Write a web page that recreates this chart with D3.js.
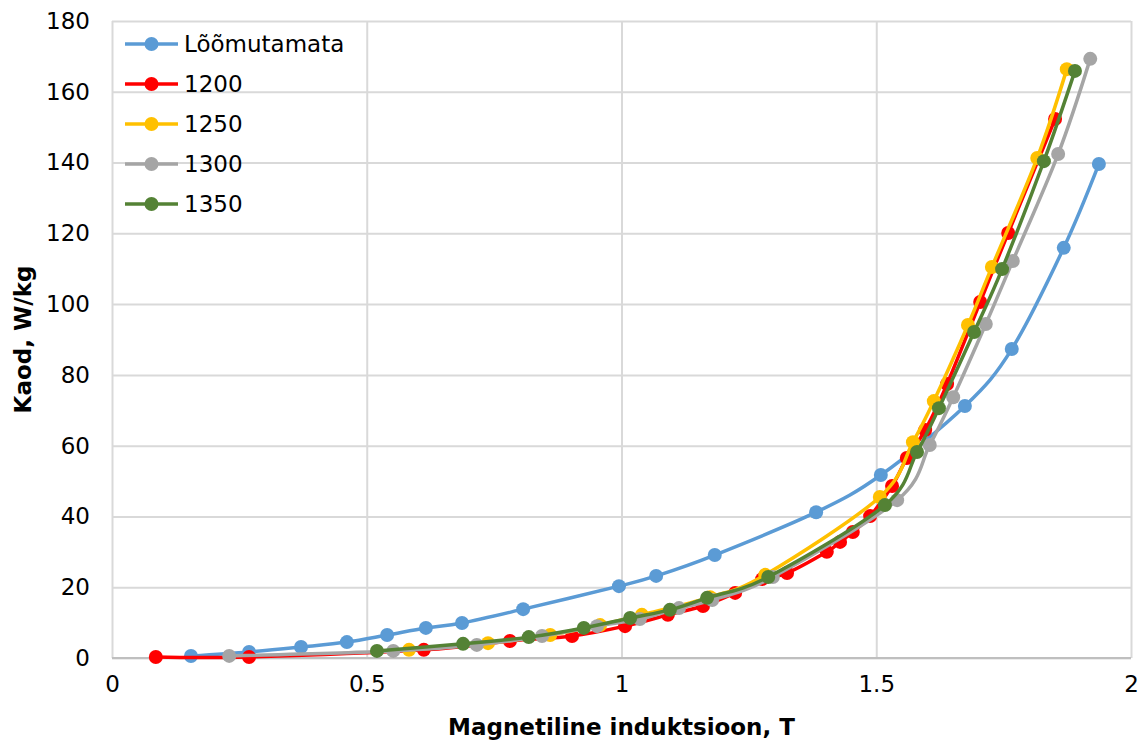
<!DOCTYPE html>
<html>
<head>
<meta charset="utf-8">
<script src="https://cdn.jsdelivr.net/npm/d3@7"></script>
<style>
  body { margin: 0; background: #fff; }
  text { font-family: "DejaVu Sans", Verdana, sans-serif; }
</style>
</head>
<body>
<div class="chart"></div>
<script>
// series names and colours
const seriesNames = ['Lõõmutamata', '1200', '1250', '1300', '1350'];
const seriesColors = ['#5B9BD5', '#FF0000', '#FFC000', '#A5A5A5', '#548235'];

// magnetic induction (T) and losses (W/kg)
const bUnannealed = [0.155, 0.269, 0.371, 0.461, 0.540, 0.616, 0.687, 0.807, 0.995, 1.068, 1.183, 1.382, 1.509, 1.674, 1.766, 1.868, 1.937];
const pUnannealed = [0.56, 1.7, 3.1, 4.5, 6.5, 8.5, 9.9, 13.8, 20.3, 23.2, 29.1, 41.2, 51.7, 71.2, 87.3, 115.9, 139.6];

const b1200 = [0.086, 0.269, 0.612, 0.781, 0.903, 1.007, 1.091, 1.160, 1.223, 1.276, 1.325, 1.403, 1.429, 1.454, 1.488, 1.531, 1.560, 1.596, 1.639, 1.704, 1.759, 1.851];
const p1200 = [0.3, 0.3, 2.3, 4.8, 6.2, 9.0, 12.2, 14.7, 18.4, 22.3, 24.0, 30.0, 32.8, 35.6, 40.1, 48.6, 56.5, 64.4, 77.4, 100.6, 120.1, 152.3];

const b1250 = [0.583, 0.738, 0.860, 0.958, 1.040, 1.174, 1.282, 1.507, 1.572, 1.613, 1.680, 1.727, 1.816, 1.874];
const p1250 = [2.3, 4.2, 6.5, 9.3, 12.2, 17.2, 23.5, 45.5, 61.0, 72.6, 94.1, 110.5, 141.3, 166.4];

const b1300 = [0.230, 0.552, 0.716, 0.844, 0.952, 1.036, 1.113, 1.178, 1.297, 1.541, 1.605, 1.651, 1.715, 1.768, 1.857, 1.920];
const p1300 = [0.6, 2.0, 3.7, 6.2, 9.0, 11.0, 14.1, 16.4, 22.9, 44.6, 60.2, 73.7, 94.4, 112.2, 142.4, 169.3];

const b1350 = [0.520, 0.689, 0.818, 0.926, 1.017, 1.095, 1.168, 1.288, 1.517, 1.580, 1.623, 1.692, 1.747, 1.829, 1.890];
const p1350 = [2.0, 4.0, 5.9, 8.5, 11.3, 13.6, 17.0, 22.9, 43.2, 58.2, 70.6, 92.1, 109.9, 140.4, 165.9];

const xTicks = [0, 0.5, 1, 1.5, 2];
const yTicks = [0, 20, 40, 60, 80, 100, 120, 140, 160, 180];

const xValues = [bUnannealed, b1200, b1250, b1300, b1350];
const yValues = [pUnannealed, p1200, p1250, p1300, p1350];
const series = seriesNames.map((name, i) => ({
  name: name,
  color: seriesColors[i],
  points: xValues[i].map((b, j) => ({b: b, p: yValues[i][j]}))
}));

const width = 1144, height = 742;
const margin = {top: 21, right: 13, bottom: 84, left: 112};
const graphWidth = width - margin.left - margin.right;
const graphHeight = height - margin.top - margin.bottom;
const fontSize = '23px';

const svg = d3.select('.chart')
  .append('svg')
    .attr('width', width)
    .attr('height', height);

const graph = svg.append('g')
  .attr('transform', `translate(${margin.left}, ${margin.top})`);

const x = d3.scaleLinear().domain([0, 2]).range([0, graphWidth]);
const y = d3.scaleLinear().domain([0, 180]).range([graphHeight, 0]);

// gridlines
const xGrid = graph.append('g')
  .attr('transform', `translate(0, ${graphHeight})`)
  .call(d3.axisBottom(x).tickValues(xTicks).tickSize(-graphHeight).tickFormat(''));
const yGrid = graph.append('g')
  .call(d3.axisLeft(y).tickValues(yTicks).tickSize(-graphWidth).tickFormat(''));
[xGrid, yGrid].forEach(g => {
  g.select('.domain').remove();
  g.selectAll('line').attr('stroke', '#D9D9D9').attr('stroke-width', 2);
});

// bottom axis line
graph.append('line')
  .attr('x1', 0).attr('x2', graphWidth)
  .attr('y1', y(0)).attr('y2', y(0))
  .attr('stroke', '#BFBFBF').attr('stroke-width', 2);

// tick labels
const xAxisGroup = graph.append('g')
  .attr('transform', `translate(0, ${graphHeight})`)
  .call(d3.axisBottom(x).tickValues(xTicks).tickSize(0).tickPadding(18).tickFormat(d => d));
const yAxisGroup = graph.append('g')
  .call(d3.axisLeft(y).tickValues(yTicks).tickSize(0).tickPadding(22).tickFormat(d => d));
[xAxisGroup, yAxisGroup].forEach(g => {
  g.select('.domain').remove();
  g.selectAll('text')
    .attr('fill', '#000')
    .style('font-size', fontSize)
    .style('font-family', '"DejaVu Sans", Verdana, sans-serif');
});

// lines and markers
const line = d3.line()
  .x(d => x(d.b))
  .y(d => y(d.p))
  .curve(d3.curveCatmullRom.alpha(0));

series.forEach(s => {
  const g = graph.append('g');
  g.append('path')
    .datum(s.points)
    .attr('d', line)
    .attr('fill', 'none')
    .attr('stroke', s.color)
    .attr('stroke-width', 3.5)
    .attr('stroke-linejoin', 'round');
  g.selectAll('circle')
    .data(s.points)
    .enter()
    .append('circle')
      .attr('cx', d => x(d.b))
      .attr('cy', d => y(d.p))
      .attr('r', 7)
      .attr('fill', s.color);
});

// legend
const legend = svg.append('g')
  .attr('transform', 'translate(125, 44)');
const items = legend.selectAll('g')
  .data(series)
  .enter()
  .append('g')
    .attr('transform', (d, i) => `translate(0, ${i * 40})`);
items.append('line')
  .attr('x1', 0).attr('x2', 53)
  .attr('stroke', d => d.color)
  .attr('stroke-width', 3.5);
items.append('circle')
  .attr('cx', 26.5)
  .attr('r', 7)
  .attr('fill', d => d.color);
items.append('text')
  .attr('x', 59)
  .attr('dy', '0.36em')
  .style('font-size', fontSize)
  .text(d => d.name);

// axis titles
svg.append('text')
  .attr('x', margin.left + graphWidth / 2)
  .attr('y', 735)
  .attr('text-anchor', 'middle')
  .style('font-size', fontSize)
  .style('font-weight', 'bold')
  .text('Magnetiline induktsioon, T');

svg.append('text')
  .attr('transform', `translate(31, ${margin.top + graphHeight / 2}) rotate(-90)`)
  .attr('text-anchor', 'middle')
  .style('font-size', fontSize)
  .style('font-weight', 'bold')
  .text('Kaod, W/kg');
</script>
</body>
</html>
